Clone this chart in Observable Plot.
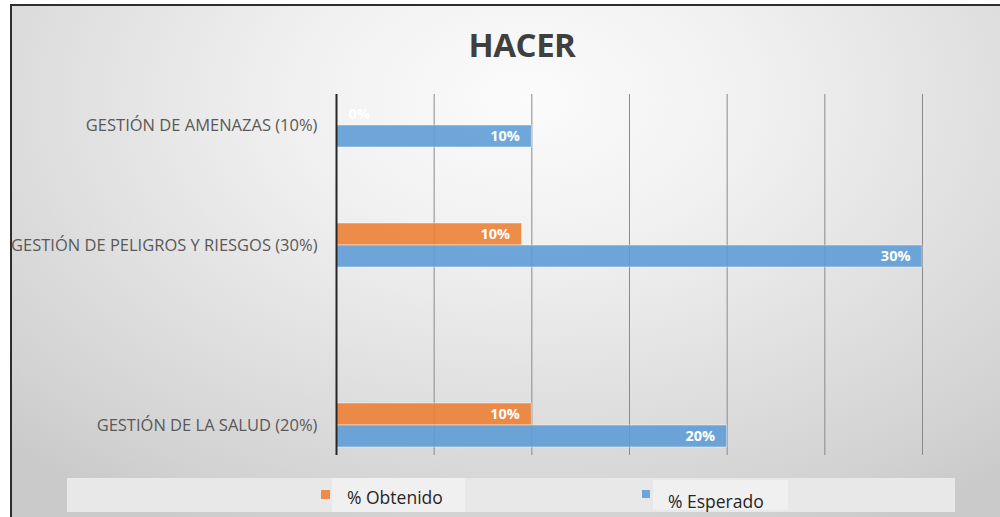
<!DOCTYPE html>
<html>
<head>
<meta charset="utf-8">
<script src="https://cdn.jsdelivr.net/npm/d3@7"></script>
<script src="https://cdn.jsdelivr.net/npm/@observablehq/plot@0.6"></script>
<style>
  html, body { margin: 0; padding: 0; background: #ffffff; }
  #wrap { position: relative; width: 1000px; height: 517px; overflow: hidden; font-family: "Open Sans", "DejaVu Sans", sans-serif; }
  #frame { position: absolute; left: 10px; top: 4px; right: 0; bottom: 0;
    border-left: 2px solid #2e2e2e; border-top: 2px solid #2e2e2e;
    background: radial-gradient(ellipse 75% 95% at 52% 18%, #fbfbfb 0%, #f1f1f1 30%, #e0e0e0 62%, #d2d2d2 88%, #cacaca 100%); }
  #title { position: absolute; left: 0; top: 28px; width: 1044px; text-align: center;
    font-size: 33px; line-height: 33px; font-weight: 700; color: #3f3f3f; letter-spacing: -0.5px; }
  #chart { position: absolute; left: 0; top: 80px; }
  #legend { position: absolute; left: 67px; top: 478px; width: 888px; height: 34px; background: #e8e8e8; }
  .lg-box { position: absolute; background: #f0f0f0; }
  .lg-sw { position: absolute; }
  .lg-tx { position: absolute; font-size: 17.5px; color: #262626; white-space: nowrap; line-height: 18px; }
</style>
</head>
<body>
<div id="wrap">
  <div id="frame"></div>
  <div id="title"></div>
  <div id="chart"></div>
  <div id="legend"></div>
</div>
<script>
// ---- data ----
const chartTitle = "HACER";
const categories = [
  "GESTIÓN DE AMENAZAS (10%)",
  "GESTIÓN DE PELIGROS Y RIESGOS (30%)",
  "GESTIÓN DE LA SALUD (20%)"
];
const series = ["% Obtenido", "% Esperado"];
const obtenido = [0, 9.5, 10];
const esperado = [10, 30, 20];
const xTicks = [0, 5, 10, 15, 20, 25, 30];
// category slots (empty rows in the original sheet)
const yDomain = [categories[0], " ", categories[1], "  ", "   ", categories[2]];
const colors = ["#ED7D31", "#5B9BD5"];

// ---- build ----
document.getElementById("title").textContent = chartTitle;

const rows = categories.flatMap((c, i) => [
  {cat: c, serie: series[0], value: obtenido[i]},
  {cat: c, serie: series[1], value: esperado[i]}
]);
const fmt = d => Math.round(d.value) + "%";
const inset = 22;
const labelFont = {fill: "white", fontSize: 14.5, fontWeight: 700};

function seriesMarks(s, idx) {
  const data = rows.filter(d => d.serie === s);
  const dy = idx === 0 ? -inset / 2 : inset / 2;
  return [
    Plot.barX(data, {
      x: "value", y: "cat", fill: "serie",
      insetTop: idx === 0 ? 0 : inset, insetBottom: idx === 0 ? inset : 0,
      fillOpacity: 0.88, stroke: "#ffffff", strokeOpacity: 0.45, strokeWidth: 1
    }),
    Plot.text(data.filter(d => d.value > 0), {
      x: "value", y: "cat", text: fmt, textAnchor: "end", dx: -12, dy, ...labelFont
    }),
    Plot.text(data.filter(d => d.value === 0), {
      x: "value", y: "cat", text: fmt, textAnchor: "start", dx: 12, dy, ...labelFont
    })
  ];
}

const plot = Plot.plot({
  width: 1000,
  height: 390,
  marginLeft: 336,
  marginRight: 78,
  marginTop: 14,
  marginBottom: 15,
  style: {background: "transparent", fontFamily: "'Open Sans', 'DejaVu Sans', sans-serif", overflow: "visible"},
  x: {domain: [0, 30], axis: null},
  y: {domain: yDomain, paddingInner: 0.27, paddingOuter: 0.135, axis: null},
  color: {domain: series, range: colors},
  marks: [
    Plot.gridX(xTicks.filter(t => t > 0), {stroke: "#8a8a8a", strokeOpacity: 1, strokeWidth: 1}),
    ...seriesMarks(series[0], 0),
    ...seriesMarks(series[1], 1),
    Plot.ruleX([0], {stroke: "#262626", strokeWidth: 2}),
    Plot.axisY({tickSize: 0, tickPadding: 19, fontSize: 16.5, fill: "#595959", label: null,
      tickFormat: d => d.trim()})
  ]
});
document.getElementById("chart").appendChild(plot);

// ---- legend (HTML, positioned like the original) ----
const legend = document.getElementById("legend");
const legendItems = [
  {box: [265, 0, 133, 34], sw: [254, 12, 9, 9], tx: [280, 10]},
  {box: [586, 2, 135, 30], sw: [575, 12, 8, 8], tx: [601, 14]}
];
series.forEach((s, i) => {
  const it = legendItems[i];
  const b = document.createElement("div");
  b.className = "lg-box";
  Object.assign(b.style, {left: it.box[0] + "px", top: it.box[1] + "px", width: it.box[2] + "px", height: it.box[3] + "px"});
  legend.appendChild(b);
  const sw = document.createElement("div");
  sw.className = "lg-sw";
  Object.assign(sw.style, {left: it.sw[0] + "px", top: it.sw[1] + "px", width: it.sw[2] + "px", height: it.sw[3] + "px", background: colors[i], opacity: 0.88});
  legend.appendChild(sw);
  const t = document.createElement("div");
  t.className = "lg-tx";
  t.textContent = s;
  Object.assign(t.style, {left: it.tx[0] + "px", top: it.tx[1] + "px"});
  legend.appendChild(t);
});
</script>
</body>
</html>
